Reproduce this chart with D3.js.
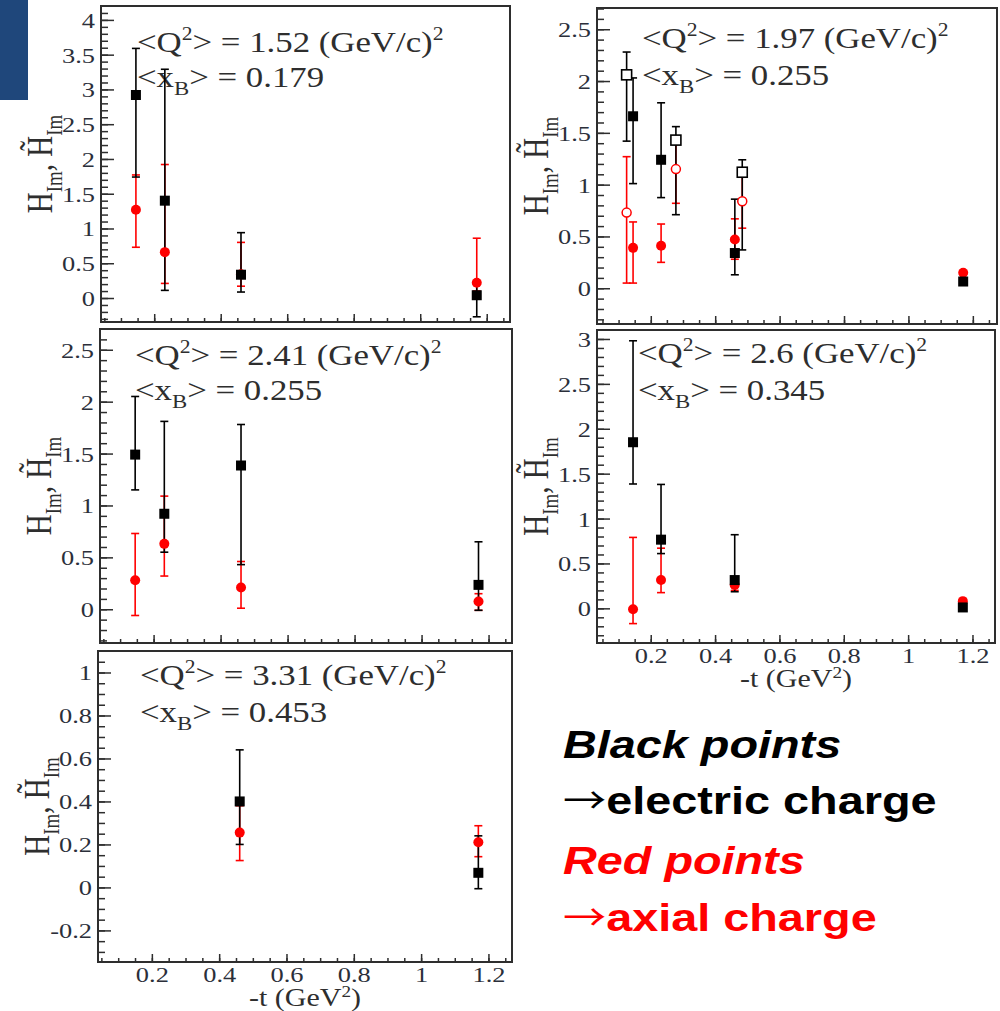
<!DOCTYPE html>
<html>
<head>
<meta charset="utf-8">
<script src="https://cdn.jsdelivr.net/npm/d3@7"></script>
<style>
  body { margin: 0; background: #fff; }
  svg { display: block; }
</style>
</head>
<body>
<div id="chart"></div>
<script>
// -t bins (GeV^2) for the filled points, and for the open points of the 1.97 panel
const tBins = [0.145, 0.232, 0.461, 1.17];
const tOpen = [0.125, 0.278, 0.484];

const q2Values = ["1.52", "1.97", "2.41", "2.6", "3.31"];
const xbValues = ["0.179", "0.255", "0.255", "0.345", "0.453"];

// [value, lower end of error bar, upper end of error bar], null = no point
const elec152 = [[2.92, 1.74, 3.59], [1.40, 0.11, 3.29], [0.335, 0.086, 0.94], [0.04, -0.27, 0.22]];
const axial152 = [[1.27, 0.73, 1.77], [0.66, 0.21, 1.92], [0.34, 0.17, 0.80], [0.22, 0.10, 0.86]];

const elec197 = [[1.66, 1.01, 2.03], [1.24, 0.875, 1.79], [0.34, 0.13, 0.86], [0.065, 0.065, 0.065]];
const axial197 = [[0.39, 0.05, 0.64], [0.41, 0.25, 0.62], [0.47, 0.28, 0.67], [0.15, 0.15, 0.15]];
const elecOpen197 = [[2.06, 1.42, 2.28], [1.43, 0.71, 1.56], [1.12, 0.37, 1.24]];
const axialOpen197 = [[0.73, 0.05, 1.27], [1.15, 0.82, 1.45], [0.84, 0.58, 1.12]];

const elec241 = [[1.49, 1.15, 2.05], [0.92, 0.55, 1.81], [1.385, 0.43, 1.78], [0.235, -0.01, 0.65]];
const axial241 = [[0.28, -0.06, 0.73], [0.63, 0.32, 1.09], [0.21, 0.01, 0.46], [0.075, -0.01, 0.15]];

const elec260 = [[1.85, 1.385, 2.98], [0.765, 0.61, 1.38], [0.315, 0.185, 0.82], [0.01, 0.01, 0.01]];
const axial260 = [[-0.01, -0.17, 0.79], [0.315, 0.175, 0.67], [0.26, 0.2, 0.3], [0.08, 0.08, 0.08]];

const elec331 = [null, null, [0.40, 0.20, 0.64], [0.068, -0.006, 0.24]];
const axial331 = [null, null, [0.255, 0.125, 0.38], [0.21, 0.143, 0.287]];

const legendLines = ["Black points", "\u2192electric charge", "Red points", "\u2192axial charge"];

// layout
const panels = [
  { i: 0, box: [101, 6, 510, 322], xd: [0.04, 1.27], yd: [-0.345, 4.2], yMax: 4, yStep: 0.5, yMin: 0.1,
    elec: elec152, axial: axial152, txt: [36, 46, 81], xlab: false },
  { i: 1, box: [597, 8, 997, 324], xd: [0.033, 1.275], yd: [-0.345, 2.705], yMax: 2.5, yStep: 0.5, yMin: 0.1,
    elec: elec197, axial: axial197, elecOpen: elecOpen197, axialOpen: axialOpen197, txt: [45, 40, 77], xlab: false },
  { i: 2, box: [100, 329, 512, 643], xd: [0.04, 1.27], yd: [-0.325, 2.70], yMax: 2.5, yStep: 0.5, yMin: 0.1,
    elec: elec241, axial: axial241, txt: [35, 36, 71], xlab: false },
  { i: 3, box: [597, 330, 995, 643], xd: [0.033, 1.27], yd: [-0.386, 3.1], yMax: 3, yStep: 0.5, yMin: 0.1,
    elec: elec260, axial: axial260, txt: [41, 33, 70], xlab: true },
  { i: 4, box: [98, 651, 512, 962], xd: [0.04, 1.27], yd: [-0.347, 1.1], yMax: 1, yStep: 0.2, yMin: 0.05,
    elec: elec331, axial: axial331, txt: [42, 34, 71], xlab: true }
];

const W = 1000, H = 1011;
const SX = 1.2; // the picture is stretched horizontally
const ink = "#2e2e2e";
const tickInk = "#2b2f3a";
const red = "#ff0000";

const svg = d3.select("#chart").append("svg")
  .attr("width", W).attr("height", H);

// corner block of the slide
svg.append("rect").attr("x", 0).attr("y", 0).attr("width", 28).attr("height", 100).attr("fill", "#1f477b");

const fmt = d => String(+d.toFixed(2));

panels.forEach(p => {
  const [x0, y0, x1, y1] = p.box;
  const x = d3.scaleLinear().domain(p.xd).range([x0, x1]);
  const y = d3.scaleLinear().domain(p.yd).range([y1, y0]);
  const g = svg.append("g");

  // y axis
  const yStart = p.yStep === 0.2 ? -0.2 : 0;
  const yMajors = d3.range(yStart, p.yMax + 1e-9, p.yStep).map(v => +v.toFixed(2));
  const yMinors = d3.range(Math.ceil(p.yd[0] / p.yMin) * p.yMin, p.yd[1], p.yMin).map(v => +v.toFixed(3));

  g.append("g").attr("transform", `translate(${x0},0)`)
    .call(d3.axisLeft(y).tickValues(yMinors).tickSize(-7).tickFormat(""))
    .call(a => a.select(".domain").remove())
    .call(a => a.selectAll("line").attr("stroke", ink).attr("stroke-width", 1.5));

  g.append("g").attr("transform", `translate(${x0},0)`)
    .call(d3.axisLeft(y).tickValues(yMajors).tickSize(-13).tickPadding(5).tickFormat(fmt))
    .call(a => a.select(".domain").remove())
    .call(a => a.selectAll("line").attr("stroke", ink).attr("stroke-width", 1.5))
    .call(a => a.selectAll("text")
      .attr("fill", tickInk)
      .attr("font-family", "'Liberation Serif', 'DejaVu Serif', serif")
      .attr("font-size", 22)
      .attr("dy", "0.34em")
      .attr("transform", `scale(${SX},1)`));

  // x axis
  const xMajors = [0.2, 0.4, 0.6, 0.8, 1, 1.2];
  const xMinors = d3.range(0.05, 1.27, 0.05).map(v => +v.toFixed(2));

  g.append("g").attr("transform", `translate(0,${y1})`)
    .call(d3.axisBottom(x).tickValues(xMinors).tickSize(-4).tickFormat(""))
    .call(a => a.select(".domain").remove())
    .call(a => a.selectAll("line").attr("stroke", ink).attr("stroke-width", 1.5));

  g.append("g").attr("transform", `translate(0,${y1})`)
    .call(d3.axisBottom(x).tickValues(xMajors).tickSize(-8).tickPadding(4)
      .tickFormat(p.xlab ? fmt : ""))
    .call(a => a.select(".domain").remove())
    .call(a => a.selectAll("line").attr("stroke", ink).attr("stroke-width", 1.5))
    .call(a => a.selectAll("text")
      .attr("fill", tickInk)
      .attr("font-family", "'Liberation Serif', 'DejaVu Serif', serif")
      .attr("font-size", 22)
      .attr("transform", `scale(${SX},1)`));

  // frame
  g.append("rect")
    .attr("x", x0).attr("y", y0)
    .attr("width", x1 - x0).attr("height", y1 - y0)
    .attr("fill", "none").attr("stroke", ink).attr("stroke-width", 2);

  // y title
  const yt = g.append("text")
    .attr("transform", `translate(${x0 - 49},${(y0 + y1) / 2}) rotate(-90) scale(1,${SX})`)
    .attr("text-anchor", "middle")
    .attr("font-family", "'Liberation Serif', 'DejaVu Serif', serif")
    .attr("font-size", 29)
    .attr("fill", ink);
  yt.append("tspan").text("H");
  yt.append("tspan").attr("font-size", 19).attr("dy", 8).text("Im");
  yt.append("tspan").attr("dy", -8).text(", H\u0303");
  yt.append("tspan").attr("font-size", 19).attr("dy", 8).text("Im");

  // x title
  if (p.xlab) {
    const xt = g.append("text")
      .attr("transform", `translate(${(x0 + x1) / 2},${y1 + 44}) scale(${SX},1)`)
      .attr("text-anchor", "middle")
      .attr("font-family", "'Liberation Serif', 'DejaVu Serif', serif")
      .attr("font-size", 25)
      .attr("fill", ink);
    xt.append("tspan").text("-t (GeV");
    xt.append("tspan").attr("font-size", 16).attr("dy", -9).text("2");
    xt.append("tspan").attr("dy", 9).text(")");
  }

  // kinematics text
  const t1 = g.append("text")
    .attr("transform", `translate(${x0 + p.txt[0]},${y0 + p.txt[1]}) scale(${SX},1)`)
    .attr("font-family", "'Liberation Serif', 'DejaVu Serif', serif")
    .attr("font-size", 29).attr("fill", ink);
  t1.append("tspan").text("<Q");
  t1.append("tspan").attr("font-size", 18).attr("dy", -12).text("2");
  t1.append("tspan").attr("dy", 12).text(`> = ${q2Values[p.i]} (GeV/c)`);
  t1.append("tspan").attr("font-size", 18).attr("dy", -12).text("2");

  const t2 = g.append("text")
    .attr("transform", `translate(${x0 + p.txt[0]},${y0 + p.txt[2]}) scale(${SX},1)`)
    .attr("font-family", "'Liberation Serif', 'DejaVu Serif', serif")
    .attr("font-size", 29).attr("fill", ink);
  t2.append("tspan").text("<x");
  t2.append("tspan").attr("font-size", 19).attr("dy", 8).text("B");
  t2.append("tspan").attr("dy", -8).text(`> = ${xbValues[p.i]}`);

  // points
  const toPts = (arr, ts) => arr.map((d, k) => d ? { t: ts[k], v: d[0], lo: d[1], hi: d[2] } : null).filter(d => d);
  const elec = toPts(p.elec, tBins);
  const axial = toPts(p.axial, tBins);
  const elecOpen = p.elecOpen ? toPts(p.elecOpen, tOpen) : [];
  const axialOpen = p.axialOpen ? toPts(p.axialOpen, tOpen) : [];

  function errBars(data, color) {
    const eg = g.append("g").attr("stroke", color).attr("stroke-width", 1.6);
    data.filter(d => d.hi > d.lo).forEach(d => {
      const cx = x(d.t);
      eg.append("line").attr("x1", cx).attr("x2", cx).attr("y1", y(d.lo)).attr("y2", y(d.hi));
      eg.append("line").attr("x1", cx - 4).attr("x2", cx + 4).attr("y1", y(d.lo)).attr("y2", y(d.lo));
      eg.append("line").attr("x1", cx - 4).attr("x2", cx + 4).attr("y1", y(d.hi)).attr("y2", y(d.hi));
    });
  }

  errBars(axialOpen, red);
  errBars(elecOpen, "#000");
  errBars(axial, red);
  errBars(elec, "#000");

  g.selectAll(null).data(axialOpen).enter().append("circle")
    .attr("cx", d => x(d.t)).attr("cy", d => y(d.v)).attr("r", 4.5)
    .attr("fill", "#fff").attr("stroke", red).attr("stroke-width", 1.5);
  g.selectAll(null).data(elecOpen).enter().append("rect")
    .attr("x", d => x(d.t) - 5).attr("y", d => y(d.v) - 5).attr("width", 10).attr("height", 10)
    .attr("fill", "#fff").attr("stroke", "#000").attr("stroke-width", 1.6);
  g.selectAll(null).data(axial).enter().append("circle")
    .attr("cx", d => x(d.t)).attr("cy", d => y(d.v)).attr("r", 5)
    .attr("fill", red);
  g.selectAll(null).data(elec).enter().append("rect")
    .attr("x", d => x(d.t) - 5).attr("y", d => y(d.v) - 5).attr("width", 10).attr("height", 10)
    .attr("fill", "#000");
});

// legend text
const legY = [758, 814, 874, 931];
legendLines.forEach((line, k) => {
  const col = k < 2 ? "#000" : red;
  const txt = svg.append("text")
    .attr("transform", `translate(563,${legY[k]}) scale(${SX},1)`)
    .attr("font-family", "'Liberation Sans', Arial, sans-serif")
    .attr("font-size", 39)
    .attr("font-weight", "bold")
    .attr("fill", col);
  if (line.startsWith("\u2192")) {
    txt.append("tspan")
      .attr("font-family", "'Noto Sans CJK JP', 'DejaVu Sans', sans-serif")
      .attr("font-weight", "normal")
      .attr("font-size", 36)
      .text("\u2192");
    txt.append("tspan").text(line.slice(1));
  } else {
    txt.attr("font-style", "italic").text(line);
  }
});
</script>
</body>
</html>
